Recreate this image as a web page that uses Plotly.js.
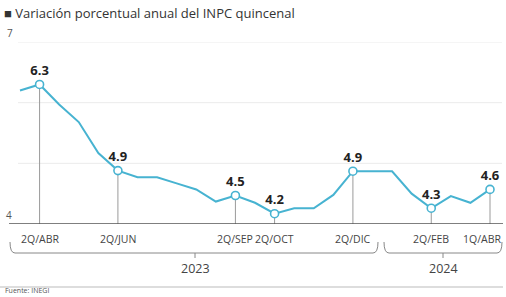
<!DOCTYPE html>
<html><head><meta charset="utf-8">
<script src="https://cdn.plot.ly/plotly-3.0.1.min.js"></script>
<style>html,body{margin:0;padding:0;background:#fff}#c{width:506px;height:297px}</style>
</head><body><div id="c"></div>
<script>
// Quincenas from 1Q/ABR 2023 to 1Q/ABR 2024
const periods = ["1Q/ABR","2Q/ABR","1Q/MAY","2Q/MAY","1Q/JUN","2Q/JUN","1Q/JUL","2Q/JUL","1Q/AGO","2Q/AGO","1Q/SEP","2Q/SEP","1Q/OCT","2Q/OCT","1Q/NOV","2Q/NOV","1Q/DIC","2Q/DIC","1Q/ENE","2Q/ENE","1Q/FEB","2Q/FEB","1Q/MAR","2Q/MAR","1Q/ABR"];
const values = [6.20,6.30,5.97,5.68,5.17,4.88,4.77,4.77,4.67,4.57,4.37,4.47,4.35,4.17,4.26,4.26,4.48,4.87,4.87,4.87,4.50,4.26,4.46,4.35,4.57];
const labeledIdx = [1,5,11,13,17,21,24];
const tickText = ["2Q/ABR","2Q/JUN","2Q/SEP","2Q/OCT","2Q/DIC","2Q/FEB","1Q/ABR"];
const years = ["2023","2024"];

const X = px => (px-18)/484;
const Y = py => (224-py)/182;
const idx = periods.map((_,i)=>i);
const blue = "#47b3d1";
const FONT = "Open Sans";

const shapes = [];
[5,6,7].forEach(v=>shapes.push({type:"line",xref:"paper",yref:"y",x0:0,x1:1,y0:v,y1:v,line:{color:"#ebebeb",width:1},layer:"below"}));
labeledIdx.forEach(i=>shapes.push({type:"line",xref:"x",yref:"y",x0:i,x1:i,y0:4,y1:values[i],line:{color:"#9a9a9a",width:1},layer:"below"}));
shapes.push({type:"line",xref:"paper",yref:"y",x0:X(9),x1:X(503),y0:4,y1:4,line:{color:"#555",width:1.6}});
// brackets
const brk = (a,b,mid)=>{
  const yt=Y(242), yl=Y(253), r=5;
  shapes.push({type:"path",xref:"paper",yref:"paper",
    path:`M ${X(a)},${yt} Q ${X(a)},${yl} ${X(a+r)},${yl} L ${X(b-r)},${yl} Q ${X(b)},${yl} ${X(b)},${yt}`,
    line:{color:"#888",width:1}});
  shapes.push({type:"line",xref:"paper",yref:"paper",x0:X(mid),x1:X(mid),y0:yl,y1:Y(258),line:{color:"#888",width:1}});
};
brk(10,378,195);
brk(384,502,443);
shapes.push({type:"line",xref:"paper",yref:"paper",x0:X(0),x1:X(503),y0:Y(287),y1:Y(287),line:{color:"#bbb",width:1}});

const ann = [
  {xref:"paper",yref:"paper",x:X(2),y:Y(2),xanchor:"left",yanchor:"top",text:"■ Variación porcentual anual del INPC quincenal",showarrow:false,font:{family:FONT,size:13,color:"#333"}},
  {xref:"paper",yref:"y",x:X(5),y:7,xanchor:"left",yanchor:"bottom",text:"7",showarrow:false,font:{family:FONT,size:10,color:"#555"}},
  {xref:"paper",yref:"y",x:X(4),y:4,xanchor:"left",yanchor:"bottom",text:"4",showarrow:false,font:{family:FONT,size:10,color:"#555"}},
  {xref:"paper",yref:"paper",x:X(195),y:Y(268),xanchor:"center",yanchor:"middle",text:years[0],showarrow:false,font:{family:FONT,size:12.5,color:"#444"}},
  {xref:"paper",yref:"paper",x:X(443),y:Y(268),xanchor:"center",yanchor:"middle",text:years[1],showarrow:false,font:{family:FONT,size:12.5,color:"#444"}},
  {xref:"paper",yref:"paper",x:X(3),y:Y(297),xanchor:"left",yanchor:"bottom",text:"Fuente: INEGI",showarrow:false,font:{family:FONT,size:7,color:"#555"}}
];
labeledIdx.forEach((i,k)=>{
  const last = k===labeledIdx.length-1;
  ann.push({xref:last?"paper":"x",yref:"paper",x:last?X(503):i,y:Y(239),xanchor:last?"right":"center",yanchor:"middle",
    text:tickText[k],showarrow:false,font:{family:FONT,size:10.5,color:"#444"}});
});

const traces = [
  {x:idx,y:values,mode:"lines",line:{color:blue,width:2},hoverinfo:"skip",cliponaxis:false},
  {x:labeledIdx,y:labeledIdx.map(i=>values[i]),mode:"markers+text",
   text:labeledIdx.map(i=>"<b>"+values[i].toFixed(1)+"</b>"),textposition:"top center",
   textfont:{family:FONT,size:13,color:"#222"},
   marker:{size:8,color:"#fff",line:{color:blue,width:1.6}},cliponaxis:false}
];

const layout = {
  width:506,height:297,margin:{l:18,r:4,t:42,b:73},
  paper_bgcolor:"#fff",plot_bgcolor:"#fff",showlegend:false,
  xaxis:{range:[-0.102,24.613],showgrid:false,zeroline:false,showline:false,showticklabels:false,ticks:"",fixedrange:true},
  yaxis:{range:[4,7],showgrid:false,zeroline:false,showline:false,showticklabels:false,fixedrange:true},
  shapes:shapes,annotations:ann
};
Plotly.newPlot("c",traces,layout,{displayModeBar:false,staticPlot:true});
</script></body></html>
